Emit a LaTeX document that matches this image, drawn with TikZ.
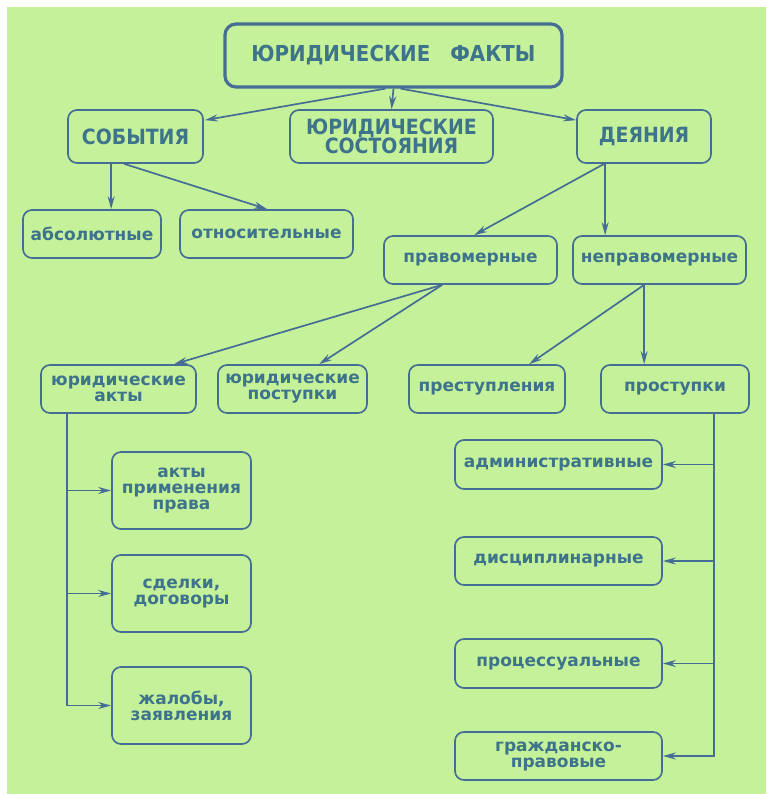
\documentclass[tikz,border=0pt]{standalone}
\usepackage{fontspec}
\setmainfont{DejaVu Sans}
\newfontfamily\capsfont{DejaVu Sans Condensed}
\usetikzlibrary{arrows.meta,calc}
\definecolor{bg}{RGB}{197,241,154}
\definecolor{ln}{RGB}{70,110,148}
\definecolor{tx}{RGB}{62,115,140}
\tikzset{
 box/.style={draw=ln, line width=1.7pt, rounded corners=9pt, text=tx, font=\bfseries\fontsize{17}{16}\selectfont, align=center, inner sep=0pt},
 capbox/.style={box, font=\capsfont\bfseries\fontsize{21}{19}\selectfont},
 titlebox/.style={box, line width=3.2pt, rounded corners=11pt, font=\capsfont\bfseries\fontsize{22}{22}\selectfont},
 conn/.style={draw=ln, line width=1.7pt},
 arr/.style={conn, -{Stealth[length=13pt,width=7pt]}},
}
\begin{document}
\begin{tikzpicture}[x=1pt,y=-1pt]
\fill[white] (0,0) rectangle (766,794);
\fill[bg] (7,7) rectangle (766,794);
\useasboundingbox (0,0) rectangle (766,794);

\node[titlebox, minimum width=337pt, minimum height=63pt] (title) at (393.5,55.5) {ЮРИДИЧЕСКИЕ\hspace{0.6em} ФАКТЫ};

\node[capbox, minimum width=135pt, minimum height=53pt] (sob) at (135.5,136.5) {СОБЫТИЯ};
\node[capbox, minimum width=203pt, minimum height=53pt] (sost) at (391.5,136.5) {ЮРИДИЧЕСКИЕ\\СОСТОЯНИЯ};
\node[capbox, minimum width=134pt, minimum height=53pt] (dey) at (644,136.5) {ДЕЯНИЯ};

\node[box, minimum width=138pt, minimum height=48pt] (abs) at (92,234) {абсолютные};
\node[box, minimum width=173pt, minimum height=48pt] (otn) at (266.5,234) {относительные};

\node[box, minimum width=173pt, minimum height=48pt] (prav) at (470.5,260) {правомерные};
\node[box, minimum width=173pt, minimum height=48pt] (neprav) at (659.5,260) {неправомерные};

\node[box, minimum width=155pt, minimum height=48pt] (jakt) at (118.5,389) {юридические\\акты};
\node[box, minimum width=149pt, minimum height=48pt] (jpost) at (292.5,389) {юридические\\поступки};
\node[box, minimum width=156pt, minimum height=48pt] (prest) at (487,389) {преступления};
\node[box, minimum width=148pt, minimum height=48pt] (prost) at (675,389) {проступки};

\node[box, minimum width=139pt, minimum height=77pt] (apr) at (181.5,490.5) {акты\\применения\\права};
\node[box, minimum width=139pt, minimum height=77pt] (sdel) at (181.5,593.5) {сделки,\\договоры};
\node[box, minimum width=139pt, minimum height=77pt] (zhal) at (181.5,705.5) {жалобы,\\заявления};

\node[box, minimum width=207pt, minimum height=49pt] (adm) at (558.5,464.5) {административные};
\node[box, minimum width=207pt, minimum height=48pt] (disc) at (558.5,561) {дисциплинарные};
\node[box, minimum width=207pt, minimum height=49pt] (proc) at (558.5,663.5) {процессуальные};
\node[box, minimum width=207pt, minimum height=48pt] (grazh) at (558.5,756) {гражданско-\\правовые};

% title connectors
\draw[arr] ($(title.south)+(-8,0)$) -- ($(sob.north east)+(1,11)$);
\draw[arr] (title.south) -- (sost.north);
\draw[arr] ($(title.south)+(7,0)$) -- ($(dey.north west)+(0,11)$);

% events
\draw[arr] ($(sob.south west)+(44,0)$) -- ($(abs.north west)+(89,0)$);
\draw[arr] ($(sob.south west)+(57,0)$) -- ($(otn.north west)+(88,0)$);

% acts
\draw[arr] ($(dey.south west)+(28,0)$) -- ($(prav.north west)+(91,0)$);
\draw[arr] ($(dey.south west)+(29,0)$) -- ($(neprav.north west)+(33,0)$);

\draw[arr] ($(prav.south west)+(59,0)$) -- ($(jakt.north west)+(134,0)$);
\draw[arr] ($(prav.south west)+(59,0)$) -- ($(jpost.north west)+(102,0)$);
\draw[arr] ($(neprav.south west)+(72,0)$) -- ($(prest.north west)+(121,0)$);
\draw[arr] ($(neprav.south west)+(72,0)$) -- ($(prost.north west)+(44,0)$);

% left bracket
\coordinate (lt) at ($(jakt.south west)+(27,0)$);
\draw[arr] (lt) |- (zhal.west);
\draw[arr] (lt |- apr.west) -- (apr.west);
\draw[arr] (lt |- sdel.west) -- (sdel.west);

% right bracket
\coordinate (rt) at ($(prost.south west)+(114,0)$);
\draw[arr] (rt) |- (grazh.east);
\draw[arr] (rt |- adm.east) -- (adm.east);
\draw[arr] (rt |- disc.east) -- (disc.east);
\draw[arr] (rt |- proc.east) -- (proc.east);
\end{tikzpicture}
\end{document}
